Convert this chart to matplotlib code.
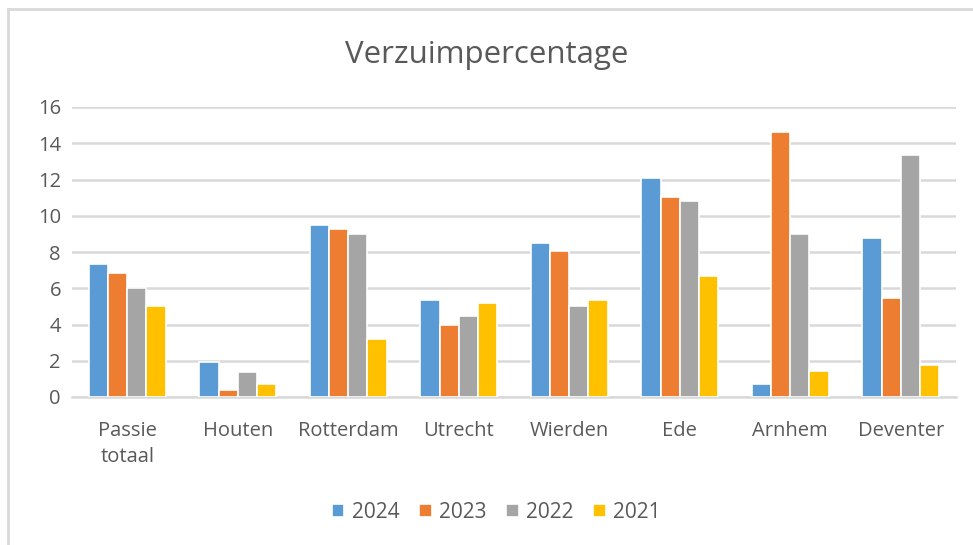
import matplotlib
matplotlib.use("Agg")
import matplotlib.pyplot as plt
from matplotlib.lines import Line2D
import numpy as np

plt.rcParams['font.family'] = ['Open Sans', 'DejaVu Sans']

locaties = ['Passie\ntotaal', 'Houten', 'Rotterdam', 'Utrecht', 'Wierden', 'Ede', 'Arnhem', 'Deventer']
jaren = ['2024', '2023', '2022', '2021']
v2024 = [7.35, 1.93, 9.49, 5.33, 8.49, 12.10, 0.74, 8.77]
v2023 = [6.86, 0.39, 9.28, 3.99, 8.07, 11.05, 14.63, 5.48]
v2022 = [6.03, 1.36, 8.99, 4.49, 5.04, 10.83, 8.99, 13.36]
v2021 = [5.04, 0.74, 3.22, 5.20, 5.33, 6.65, 1.45, 1.78]
kleuren = ['#5B9BD5', '#ED7D31', '#A5A5A5', '#FFC000']
tekst = '#595959'

W, H = 973, 545
fig = plt.figure(figsize=(W / 100, H / 100), dpi=100)
ax = fig.add_axes([72 / W, 1 - 397 / H, (956 - 72) / W, (397 - 107) / H])

x = np.arange(len(locaties))
stap = 0.174
for i, (waarden, kleur, jaar) in enumerate(zip([v2024, v2023, v2022, v2021], kleuren, jaren)):
    ax.bar(x + (i - 1.5) * stap, waarden, width=stap, color=kleur, label=jaar,
           edgecolor='white', linewidth=1.2, zorder=3)

ax.set_xlim(-0.5, len(locaties) - 0.5)
ax.set_ylim(0, 16)
ax.set_yticks(range(0, 17, 2))
ax.set_xticks(x)
ax.set_xticklabels(locaties, fontsize=14.5, color=tekst, va='top', linespacing=1.45)
ax.tick_params(axis='y', labelsize=14.5, labelcolor=tekst, length=0, pad=8)
ax.tick_params(axis='x', length=0, pad=17)
ax.grid(axis='y', color='#D9D9D9', linewidth=1.8, zorder=0)
for s in ['top', 'right', 'left']:
    ax.spines[s].set_visible(False)
ax.spines['bottom'].set_color('#D9D9D9')
ax.spines['bottom'].set_linewidth(1.8)

fig.text(0.5, 1 - 55 / H, 'Verzuimpercentage', ha='center', va='center', fontsize=22.5, color=tekst)

leg = fig.legend(loc='center', bbox_to_anchor=(0.51, 1 - 512 / H), ncol=4, frameon=False,
                 fontsize=15, handlelength=0.6, handleheight=0.6, handletextpad=0.35,
                 columnspacing=0.95, labelcolor=tekst)

# kader van de grafiek
fig.add_artist(Line2D([8 / W, 1], [1 - 9 / H, 1 - 9 / H], transform=fig.transFigure, color='#D9D9D9', linewidth=2))
fig.add_artist(Line2D([8 / W, 8 / W], [0, 1 - 9 / H], transform=fig.transFigure, color='#D9D9D9', linewidth=2))

fig.savefig('out.png', dpi=100)
